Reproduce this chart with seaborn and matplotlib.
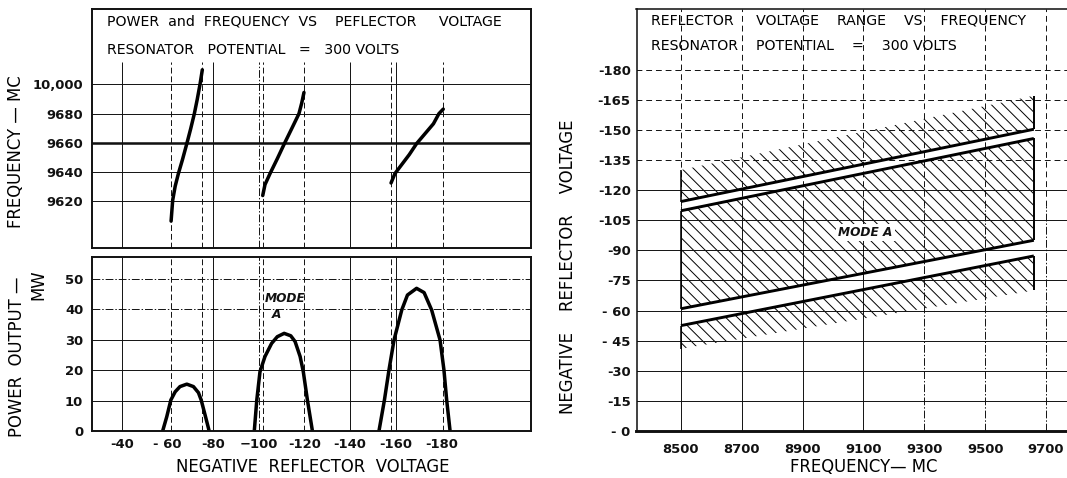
import numpy as np
import pandas as pd
import matplotlib
matplotlib.use("Agg")
import matplotlib.pyplot as plt
import seaborn as sns

# ---------------- data: left panels ----------------
# frequency curves (x = reflector voltage, y = frequency position; 9700 is labelled "10,000")
f1_volts = [-61.5, -62.2, -63.3, -64.7, -66.5, -68.4, -70.1, -71.7, -73.0, -74.2, -75.2]
f1_freq = [9606.4, 9620.7, 9630.3, 9638.9, 9648.5, 9659.4, 9669.6, 9679.9, 9689.9, 9700.1, 9709.9]
f2_volts = [-101.7, -102.7, -104.9, -108.1, -111.2, -114.4, -117.6, -118.8, -119.8]
f2_freq = [9623.9, 9631.4, 9638.9, 9649.1, 9659.4, 9669.6, 9679.9, 9687.1, 9694.4]
f3_volts = [-158.0, -159.7, -162.7, -166.0, -169.2, -172.9, -176.6, -179.0, -180.9]
f3_freq = [9632.5, 9638.9, 9645.1, 9651.9, 9659.4, 9666.2, 9673.0, 9679.9, 9683.0]

# power curves
p1_volts = [-57.8, -59.6, -61.4, -63.3, -65.4, -68.4, -71.3, -73.5, -74.7, -76.4, -78.2]
p1_mw = [0, 4.7, 10.2, 12.9, 14.6, 15.4, 14.6, 12.6, 10.2, 5.3, 0]
p2_volts = [-98.0, -99.1, -100.5, -102.7, -105.6, -108.1, -111.1, -114.0, -115.9, -118.1, -119.5, -121.3, -123.5]
p2_mw = [0, 10.2, 19.5, 24.5, 28.8, 31.0, 32.1, 31.3, 29.4, 24.5, 19.5, 10.2, 0]
p3_volts = [-152.7, -155.1, -157.1, -159.3, -162.7, -165.2, -169.2, -172.5, -175.8, -179.5, -181.2, -182.4, -183.9]
p3_mw = [0, 10.2, 20.1, 29.9, 39.8, 44.7, 46.9, 45.5, 39.8, 29.9, 20.1, 10.2, 0]

volt_ticks = [-40, -60, -80, -100, -120, -140, -160, -180]
volt_labels = ["-40", "- 60", "-80", "\u2212100", "-120", "-140", "-160", "-180"]
freq_ticks = [9620, 9640, 9660, 9680, 9700]
freq_labels = ["9620", "9640", "9660", "9680", "10,000"]
power_ticks = [0, 10, 20, 30, 40, 50]
power_labels = ["0", "10", "20", "30", "40", "50"]

# ---------------- data: right panel ----------------
band_freq = [8500, 9660]
upper_hatch_top = [-130, -167]
line_a = [-114.3, -150.3]
line_b = [-109.7, -145.7]
line_c = [-60.9, -95.0]
line_d = [-52.5, -87.2]
lower_hatch_bottom = [-41, -70]

rfreq_ticks = [8500, 8700, 8900, 9100, 9300, 9500, 9700]
rfreq_labels = ["8500", "8700", "8900", "9100", "9300", "9500", "9700"]
rvolt_ticks = [0, -15, -30, -45, -60, -75, -90, -105, -120, -135, -150, -165, -180]
rvolt_labels = ["- 0", "-15", "-30", "- 45", "- 60", "-75", "-90", "-105", "-120",
                "-135", "-150", "-165", "-180"]

# ---------------- style ----------------
sns.set_theme(style="white")
plt.rcParams["font.family"] = ["DejaVu Sans"]
plt.rcParams["hatch.linewidth"] = 1.0
plt.rcParams["hatch.color"] = "black"

W, H, DPI = 1067, 478, 70
fig = plt.figure(figsize=(W / DPI, H / DPI), dpi=DPI, facecolor="white")


def box(x0, y0, x1, y1):
    return [x0 / W, 1 - y1 / H, (x1 - x0) / W, (y1 - y0) / H]


def ftext(x, y, s, **kw):
    fig.text(x / W, 1 - y / H, s, color="black", **kw)


ax_f = fig.add_axes(box(92, 9, 531, 248))
ax_p = fig.add_axes(box(92, 257, 531, 431))
ax_r = fig.add_axes(box(636.5, 9.4, 1067, 431))

INK = "#111111"
TICKFONT = dict(fontsize=13.5, fontweight="bold")
DASHDOT = (0, (8, 2, 1.5, 2))

# ---------- left top: frequency ----------
for ax in (ax_f, ax_p):
    ax.set_xlim(-26.8, -219.4)
    for s in ax.spines.values():
        s.set_linewidth(2.0)
        s.set_color(INK)

ax_f.set_ylim(9588, 9751.5)
ax_p.set_ylim(0, 57.2)

grid_solid = [-40, -80, -140, -160]
grid_dashdot = [-100]
mode_edges = [f1_volts[0], f1_volts[-1], f2_volts[0], f2_volts[-1], f3_volts[0], f3_volts[-1]]

ax_f.vlines(grid_solid, 9588, 9715, color=INK, lw=1.0)
ax_f.vlines(grid_dashdot, 9588, 9715, color=INK, lw=1.0, linestyles=DASHDOT)
ax_f.vlines(mode_edges, 9588, 9715, color=INK, lw=1.0, linestyles=(0, (6, 3)))
for v in freq_ticks:
    ax_f.axhline(v, color=INK, lw=2.6 if v == 9660 else 1.0)

for vx, fy in ((f1_volts, f1_freq), (f2_volts, f2_freq), (f3_volts, f3_freq)):
    sns.lineplot(x=vx, y=fy, ax=ax_f, sort=False, estimator=None, color="black",
                 lw=3.6, solid_capstyle="round", solid_joinstyle="round")

ax_f.set_xticks([])
ax_f.set_yticks(freq_ticks)
ax_f.set_yticklabels(freq_labels, **TICKFONT)
ax_f.tick_params(axis="y", length=5, width=1.2, direction="out", pad=4, colors=INK)

# ---------- left bottom: power ----------
ax_p.vlines(grid_solid, 0, 57.2, color=INK, lw=1.0)
ax_p.vlines(grid_dashdot, 0, 57.2, color=INK, lw=1.0, linestyles=DASHDOT)
ax_p.vlines(mode_edges, 0, 57.2, color=INK, lw=1.0, linestyles=(0, (6, 3)))
for v in power_ticks[1:]:
    ax_p.axhline(v, color=INK, lw=1.0, ls="-" if v <= 30 else DASHDOT)

for vx, py in ((p1_volts, p1_mw), (p2_volts, p2_mw), (p3_volts, p3_mw)):
    sns.lineplot(x=vx, y=py, ax=ax_p, sort=False, estimator=None, color="black",
                 lw=3.6, solid_capstyle="round", solid_joinstyle="round")

ax_p.set_yticks(power_ticks)
ax_p.set_yticklabels(power_labels, **TICKFONT)
ax_p.set_xticks(volt_ticks)
ax_p.set_xticklabels(volt_labels, **TICKFONT)
ax_p.tick_params(axis="y", length=5, width=1.2, direction="out", pad=4, colors=INK)
ax_p.tick_params(axis="x", length=0, pad=7, colors=INK)
ax_p.set_xlabel("")
ax_p.set_ylabel("")
ax_f.set_ylabel("")

ax_p.text(-111.5, 43.4, "MODE", ha="center", va="center", fontsize=12.5,
          fontweight="bold", fontstyle="italic", color=INK)
ax_p.text(-107.9, 38.2, "A", ha="center", va="center", fontsize=12.5,
          fontweight="bold", fontstyle="italic", color=INK)

# ---------- right panel ----------
ax_r.set_xlim(8354, 9769)
ax_r.set_ylim(0, -210)
ax_r.spines["right"].set_visible(False)
ax_r.spines["left"].set_linewidth(1.6)
ax_r.spines["top"].set_linewidth(1.6)
ax_r.spines["bottom"].set_linewidth(3.0)
for s in ax_r.spines.values():
    s.set_color(INK)

h_solid = [v for v in rvolt_ticks if -120 <= v < 0]
h_dashed = [v for v in rvolt_ticks if v < -120]
ax_r.hlines(h_solid, 8354, 9769, color=INK, lw=1.0)
ax_r.hlines(h_dashed, 8354, 9769, color=INK, lw=1.0, linestyles=(0, (6, 4)))
ax_r.vlines(rfreq_ticks[:4], 0, -112, color=INK, lw=1.0)
ax_r.vlines(rfreq_ticks[4:], 0, -112, color=INK, lw=1.0, linestyles=DASHDOT)
ax_r.vlines(rfreq_ticks, -112, -210, color=INK, lw=1.0, linestyles=(0, (6, 4)))

# hatched regions
for lo, hi in ((line_a, upper_hatch_top), (line_b, line_c), (line_d, lower_hatch_bottom)):
    ax_r.fill_between(band_freq, lo, hi, facecolor="none",
                      edgecolor="black", hatch="\\\\", lw=0)

for ys in (line_a, line_b, line_c, line_d):
    sns.lineplot(x=band_freq, y=ys, ax=ax_r, sort=False, estimator=None,
                 color="black", lw=3.0, solid_capstyle="butt")

ax_r.vlines([band_freq[1]] * 3,
            [line_a[1], line_b[1], line_d[1]],
            [upper_hatch_top[1], line_c[1], lower_hatch_bottom[1]],
            color="black", lw=2.0)
ax_r.vlines([band_freq[0]] * 3,
            [line_a[0], line_b[0], line_d[0]],
            [upper_hatch_top[0], line_c[0], lower_hatch_bottom[0]],
            color="black", lw=1.6)

ax_r.text(9107, -98.7, "MODE A", ha="center", va="center", fontsize=12.5,
          fontweight="bold", fontstyle="italic", color=INK,
          bbox=dict(facecolor="white", edgecolor="none", pad=2))

ax_r.set_xticks(rfreq_ticks)
ax_r.set_xticklabels(rfreq_labels, **TICKFONT)
ax_r.set_yticks(rvolt_ticks)
ax_r.set_yticklabels(rvolt_labels, **TICKFONT)
ax_r.tick_params(axis="x", length=0, pad=12, colors=INK)
ax_r.tick_params(axis="y", length=3, width=1.0, direction="out", pad=3, colors=INK)
ax_r.set_xlabel("")
ax_r.set_ylabel("")

# ---------- texts ----------
TITLE = dict(fontsize=14.5, ha="left", va="center")
ftext(107, 21.5, "POWER  and  FREQUENCY  VS    PEFLECTOR     VOLTAGE", **TITLE)
ftext(107, 50, "RESONATOR   POTENTIAL   =   300 VOLTS", **TITLE)
ftext(651, 20.5, "REFLECTOR     VOLTAGE    RANGE    VS    FREQUENCY", **TITLE)
ftext(651, 45.5, "RESONATOR    POTENTIAL    =    300 VOLTS", **TITLE)

LAB = dict(fontsize=17, ha="center", va="center")
ftext(16, 152, "FREQUENCY \u2014 MC", rotation=90, **LAB)
ftext(17, 357, "POWER  OUTPUT \u2014", rotation=90, **LAB)
ftext(38, 285, "MW", rotation=90, **LAB)
ftext(313, 467, "NEGATIVE  REFLECTOR  VOLTAGE", **LAB)
ftext(568, 267, "NEGATIVE    REFLECTOR    VOLTAGE", rotation=90, **LAB)
ftext(864, 467, "FREQUENCY\u2014 MC", **LAB)

fig.savefig("out.png", dpi=DPI, facecolor="white")
